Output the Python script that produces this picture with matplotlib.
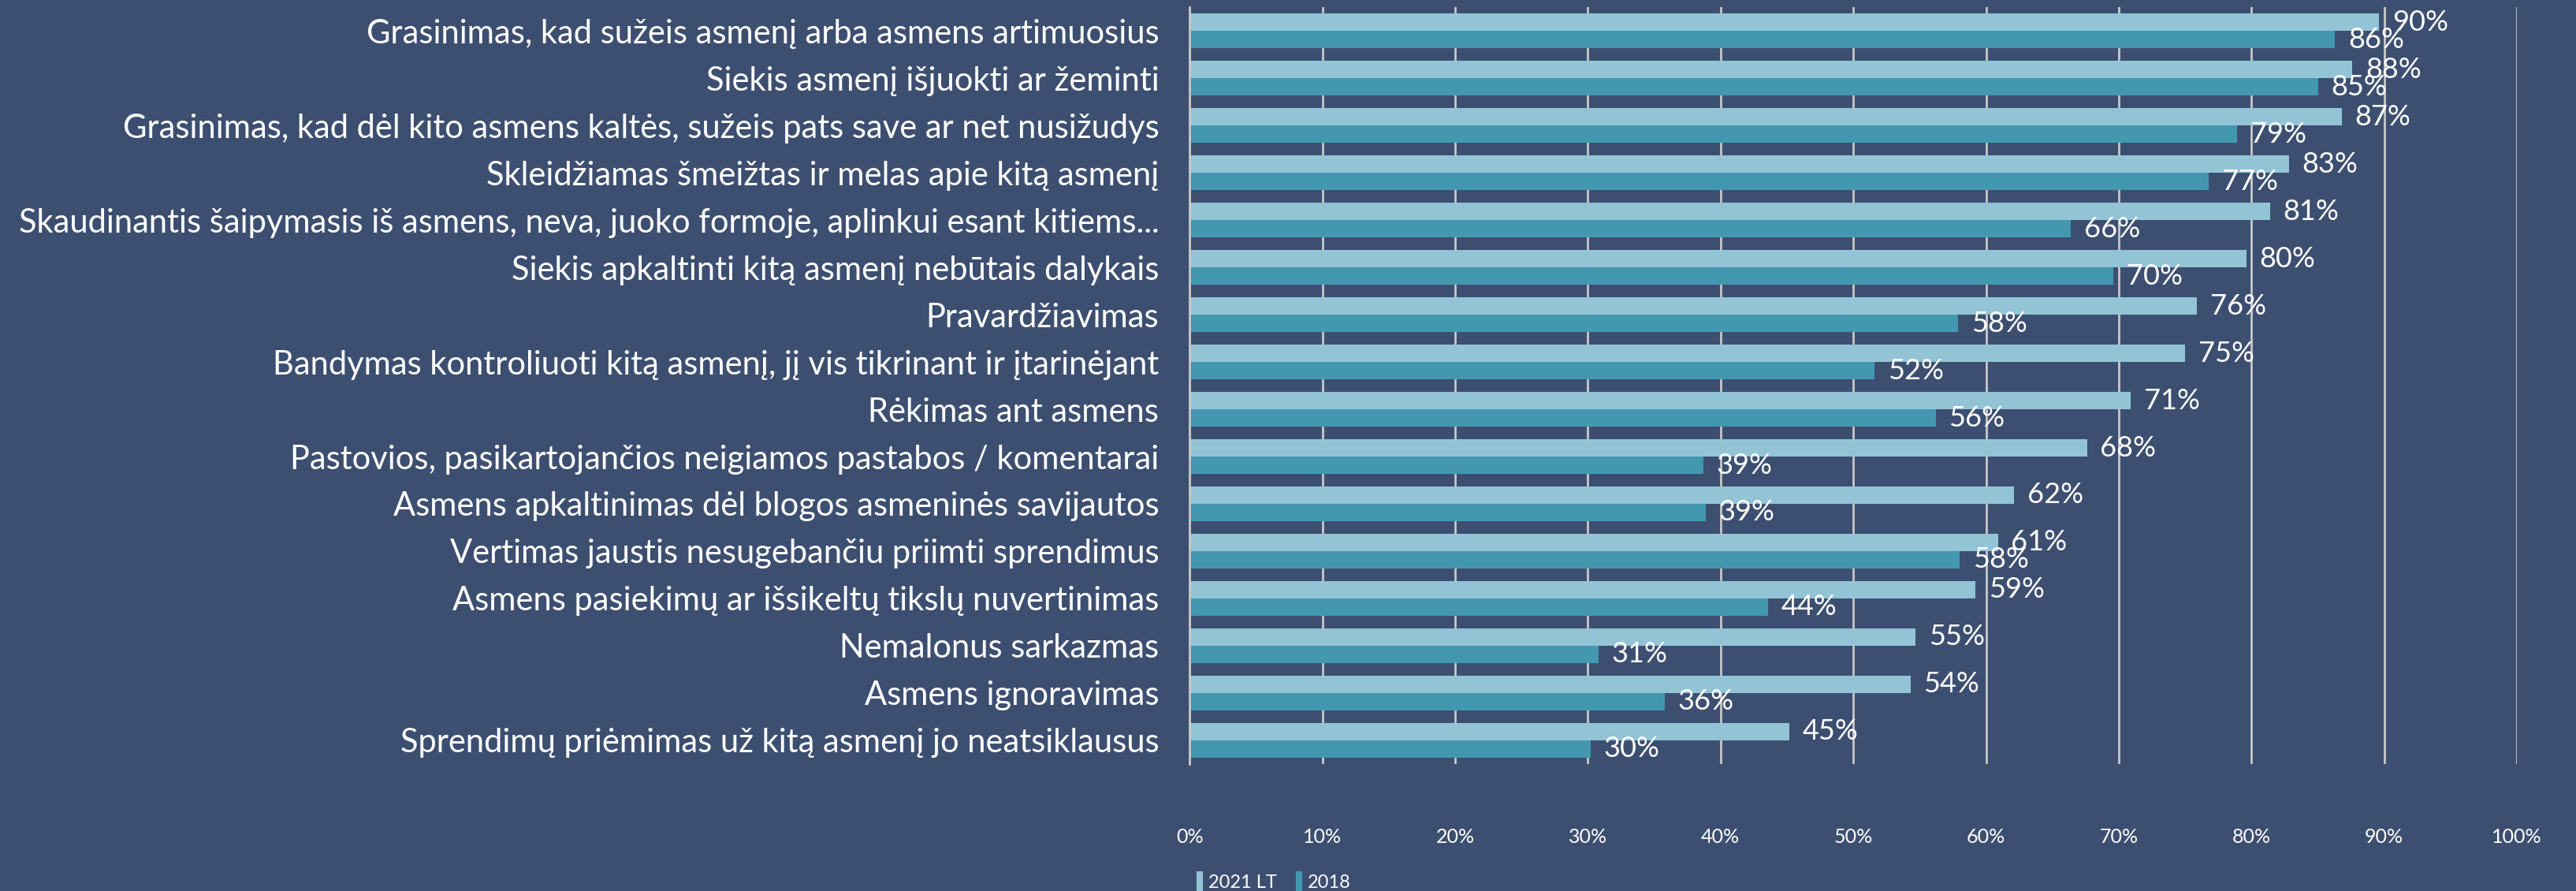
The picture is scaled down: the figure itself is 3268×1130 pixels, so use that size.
import numpy as np
import matplotlib.pyplot as plt

categories = [
    'Grasinimas, kad sužeis asmenį arba asmens artimuosius',
    'Siekis asmenį išjuokti ar žeminti',
    'Grasinimas, kad dėl kito asmens kaltės, sužeis pats save ar net nusižudys',
    'Skleidžiamas šmeižtas ir melas apie kitą asmenį',
    'Skaudinantis šaipymasis iš asmens, neva, juoko formoje, aplinkui esant kitiems...',
    'Siekis apkaltinti kitą asmenį nebūtais dalykais',
    'Pravardžiavimas',
    'Bandymas kontroliuoti kitą asmenį, jį vis tikrinant ir įtarinėjant',
    'Rėkimas ant asmens',
    'Pastovios, pasikartojančios neigiamos pastabos / komentarai',
    'Asmens apkaltinimas dėl blogos asmeninės savijautos',
    'Vertimas jaustis nesugebančiu priimti sprendimus',
    'Asmens pasiekimų ar išsikeltų tikslų nuvertinimas',
    'Nemalonus sarkazmas',
    'Asmens ignoravimas',
    'Sprendimų priėmimas už kitą asmenį jo neatsiklausus',
]
lt_2021 = [89.6, 87.6, 86.8, 82.8, 81.4, 79.6, 75.9, 75.0, 70.9, 67.6, 62.1, 60.9, 59.2, 54.7, 54.3, 45.2]
y_2018 = [86.3, 85.0, 78.9, 76.8, 66.4, 69.6, 57.9, 51.6, 56.2, 38.7, 38.9, 58.0, 43.6, 30.8, 35.8, 30.2]
series_names = ['2021 LT', '2018']
xticks = np.arange(0, 101, 10)

bg = '#3D4F71'
c_light = '#92C4D6'
c_dark = '#4398B0'
grid_c = '#C8C8C8'

plt.rcParams['font.family'] = ['Lato', 'DejaVu Sans']

fig = plt.figure(figsize=(32.68, 11.30), dpi=100, facecolor=bg)
ax = fig.add_axes([0.4618, 0.1425, 0.5153, 0.8495], facecolor=bg)

y = np.arange(len(categories))
h = 0.3667
b1 = ax.barh(y - h / 2, lt_2021, height=h, color=c_light, label=series_names[0], zorder=2)
b2 = ax.barh(y + h / 2, y_2018, height=h, color=c_dark, label=series_names[1], zorder=2)

for bars, vals in [(b1, lt_2021), (b2, y_2018)]:
    for rect, v in zip(bars, vals):
        ax.annotate(f'{round(v)}%', (v, rect.get_y() + rect.get_height() / 2),
                    xytext=(12, 0), textcoords='offset points', ha='left', va='center',
                    color='white', fontsize=26, zorder=3)

ax.set_xlim(0, 100)
ax.set_ylim(len(categories) - 0.5, -0.5)
ax.set_xticks(xticks)
ax.set_xticklabels([f'{t}%' for t in xticks], color='white', fontsize=18)
ax.set_yticks(y)
ax.set_yticklabels(categories, color='white', fontsize=30)
ax.tick_params(axis='y', length=0, pad=28)
ax.tick_params(axis='x', length=0, pad=58)
ax.grid(axis='x', color=grid_c, linewidth=2, zorder=1)
ax.set_axisbelow(True)
for s in ['top', 'right', 'bottom']:
    ax.spines[s].set_visible(False)
ax.spines['left'].set_color(grid_c)
ax.spines['left'].set_linewidth(2)

fig.legend(handles=[b1, b2], labels=series_names, loc='center left',
           bbox_to_anchor=(0.458, 0.011), ncol=2, frameon=False,
           handlelength=0.35, handleheight=1.2, handletextpad=0.3, columnspacing=1.0,
           labelcolor='white', fontsize=17)

fig.savefig('out.png', dpi=100, facecolor=bg)
